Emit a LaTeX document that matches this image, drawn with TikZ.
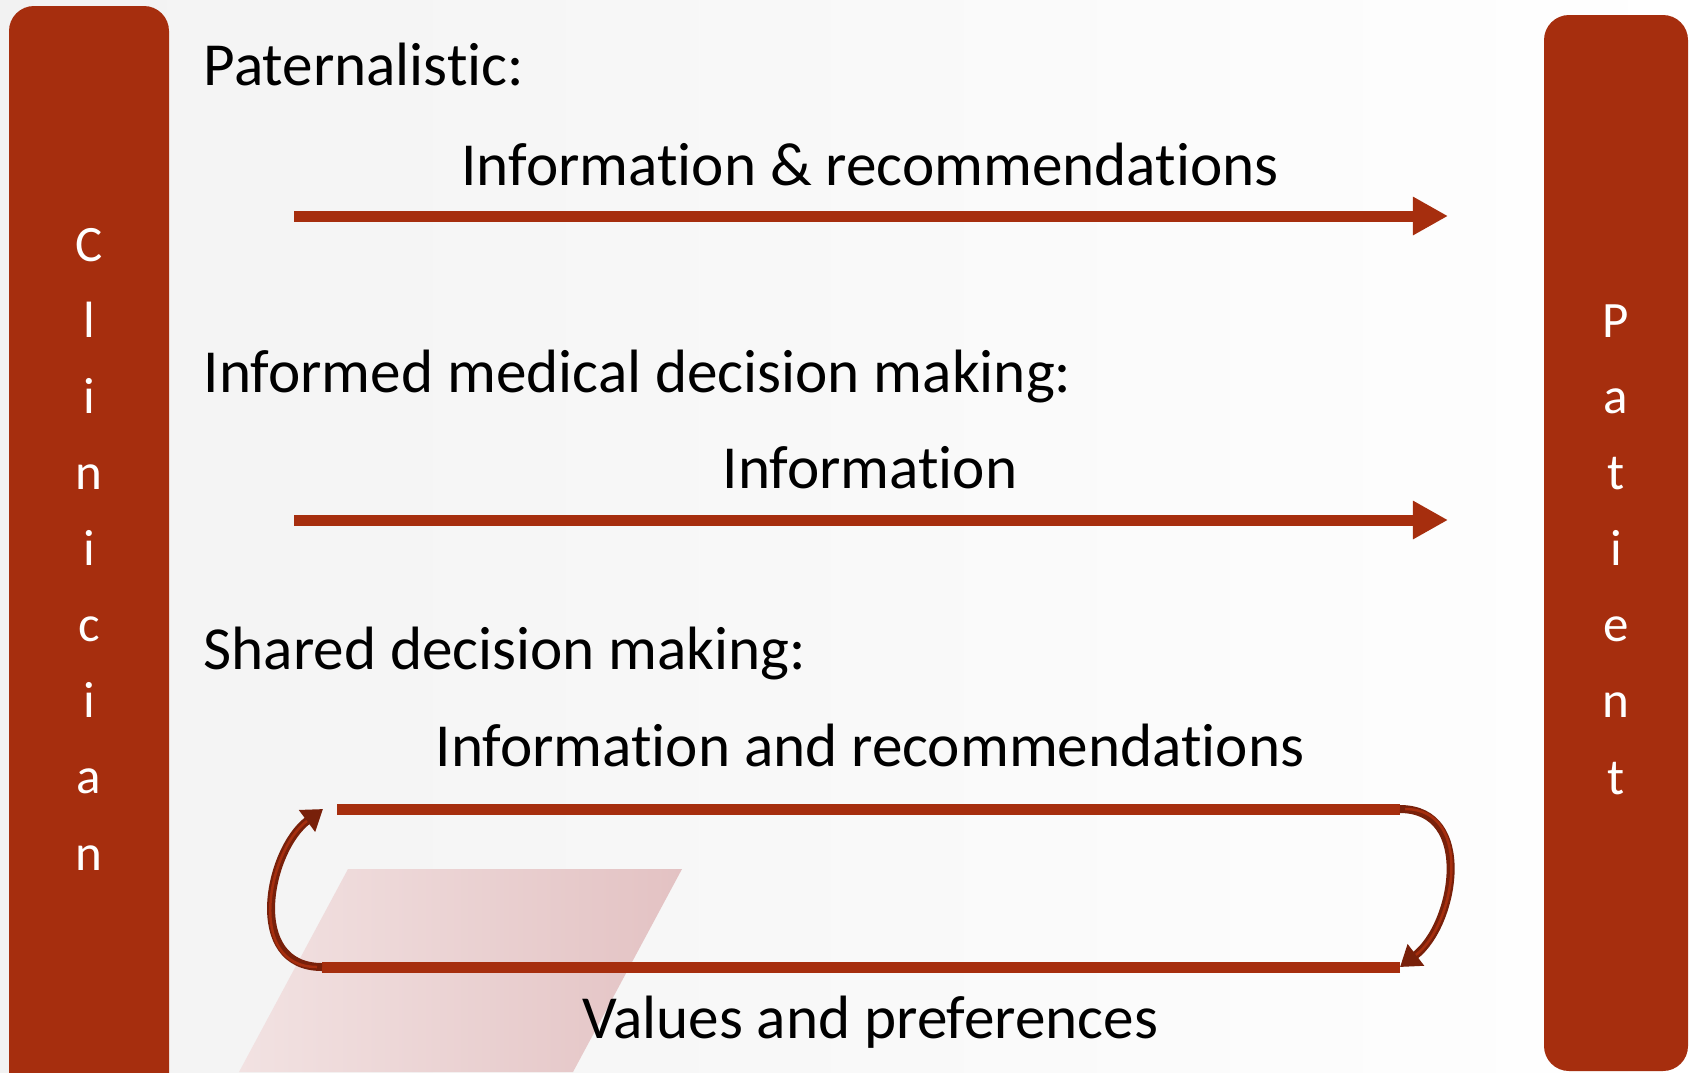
\documentclass[tikz,border=0pt]{standalone}
\usepackage{fontspec}
\setmainfont{Carlito}[Ligatures=NoCommon]
\usetikzlibrary{arrows.meta}
\definecolor{rust}{RGB}{166,46,14}
\definecolor{darkrust}{RGB}{120,32,10}
\definecolor{pinkl}{RGB}{242,226,226}
\definecolor{pinkr}{RGB}{227,194,195}
\begin{document}
\begin{tikzpicture}
	[x=0.01cm,y=-0.01cm,
	bar/.style={fill=rust,rounded corners=0.25cm},
	heading/.style={anchor=base west,inner sep=0pt,font=\fontsize{17.4}{20}\selectfont},
	message/.style={anchor=base,font=\fontsize{17.4}{20}\selectfont},
	letters/.style={text=white,align=center,anchor=base,inner sep=0pt,font=\fontsize{14.5}{21.62}\selectfont},
	flow/.style={rust,line width=0.11cm,-{Triangle[length=0.35cm,width=0.36cm]}},
	band/.style={rust,line width=0.11cm},
	loop/.style={darkrust,line width=0.08cm,-{Triangle[length=0.2cm,width=0.26cm]}},
	shine/.style={rust,line width=0.025cm,shorten >=0.2cm,shorten <=0.05cm}]
	\useasboundingbox (0,0) rectangle (1694,1072);
	% background
	\shade[left color=black!5,right color=white] (0,0) rectangle (1694,1072);
	\shade[left color=pinkl,right color=pinkr] (348,869) -- (682,869) -- (573,1072) -- (239,1072) -- cycle;
	% side bars
	\begin{scope}
		\clip (0,0) rectangle (1694,1072);
		\fill[bar] (9,6) rectangle (169,1100);
		\fill[bar] (1544,15) rectangle (1688,1071);
	\end{scope}
	\node[letters,name=clinician]at(89,870){C\\l\\i\\n\\i\\c\\i\\a\\n};
	\node[letters,name=patient]at(1616,794){P\\a\\t\\i\\e\\n\\t};
	% paternalistic
	\node[heading,name=pat]at(203,85){Paternalistic:};
	\node[message,name=recs]at(870,185){Information \& recommendations};
	\coordinate (a1) at (294,216);
	\coordinate (a2) at (1448,216);
	\draw[flow](a1) --(a2);
	% informed
	\node[heading,name=inf]at(203,392){Informed medical decision making:};
	\node[message,name=info]at(870,488){Information};
	\coordinate (b1) at (294,520);
	\coordinate (b2) at (1448,520);
	\draw[flow](b1) --(b2);
	% shared
	\node[heading,name=sha]at(203,669){Shared decision making:};
	\node[message,name=down]at(870,766){Information and recommendations};
	\node[message,name=up]at(870,1038){Values and preferences};
	\coordinate (c1) at (337,809);
	\coordinate (c2) at (1400,809);
	\coordinate (c3) at (1400,967);
	\coordinate (c4) at (322,967);
	\coordinate (t1) at (323,809);
	\draw[band](c1) --(c2);
	\draw[band](c3) --(c4);
	\draw[loop](c2) .. controls (1475,809) and (1455,925) .. (c3);
	\draw[shine](c2) .. controls (1475,809) and (1455,925) .. (c3);
	\draw[loop](c4) .. controls (245,967) and (268,850) .. (t1);
	\draw[shine](c4) .. controls (245,967) and (268,850) .. (t1);
\end{tikzpicture}
\end{document}
